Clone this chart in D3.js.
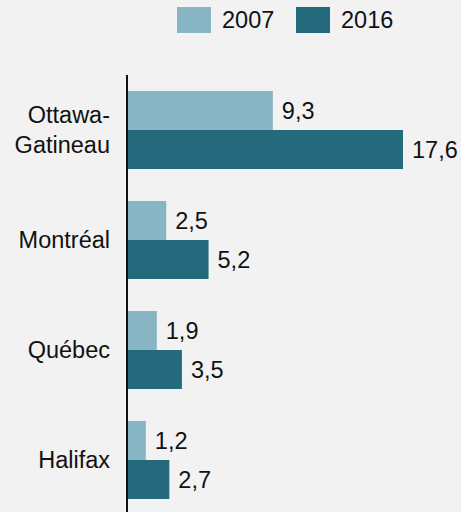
<!DOCTYPE html>
<html>
<head>
<meta charset="utf-8">
<script src="https://cdn.jsdelivr.net/npm/d3@7"></script>
<style>
  body { margin: 0; background: #f2f2f2; }
  text { font-family: "Liberation Sans", Arial, sans-serif; fill: #111; }
</style>
</head>
<body>
<div id="chart"></div>
<script>
const cities = ["Ottawa-\nGatineau", "Montréal", "Québec", "Halifax"];
const series = ["2007", "2016"];
const values2007 = [9.3, 2.5, 1.9, 1.2];
const values2016 = [17.6, 5.2, 3.5, 2.7];
const colors = ["#88b5c3", "#246a7c"];

const data = cities.map((c, i) => ({ city: c, values: [values2007[i], values2016[i]] }));

const fullWidth = 461;
const fullHeight = 512;
const axisX = 127;
const fontSize = 23.5;

const svg = d3
  .select("#chart")
  .append("svg")
  .attr("width", fullWidth)
  .attr("height", fullHeight);

svg.append("rect")
  .attr("width", fullWidth)
  .attr("height", fullHeight)
  .style("fill", "#f2f2f2");

const xScale = d3.scaleLinear().domain([0, 17.6]).range([axisX, 403]);

const yScale = d3
  .scaleBand()
  .domain(cities)
  .range([75, 515])
  .paddingInner(0.291)
  .paddingOuter(0.1455);

const subScale = d3.scaleBand().domain(series).range([0, yScale.bandwidth()]);

const groups = svg
  .selectAll(".group")
  .data(data)
  .enter()
  .append("g")
  .attr("transform", d => `translate(0, ${yScale(d.city)})`);

groups
  .selectAll("rect")
  .data(d => d.values.map((v, i) => ({ v, s: series[i], i })))
  .enter()
  .append("rect")
  .attr("x", axisX)
  .attr("y", d => subScale(d.s))
  .attr("width", d => xScale(d.v) - axisX)
  .attr("height", subScale.bandwidth())
  .style("fill", d => colors[d.i]);

groups
  .selectAll(".val")
  .data(d => d.values.map((v, i) => ({ v, s: series[i] })))
  .enter()
  .append("text")
  .attr("x", d => xScale(d.v) + 9)
  .attr("y", d => subScale(d.s) + subScale.bandwidth() / 2)
  .attr("dy", "0.35em")
  .style("font-size", fontSize + "px")
  .text(d => d3.format(".1f")(d.v).replace(".", ","));

// category labels
groups.each(function (d) {
  const lines = d.city.split("\n");
  const t = d3.select(this)
    .append("text")
    .attr("text-anchor", "end")
    .style("font-size", fontSize + "px")
    .attr("y", yScale.bandwidth() / 2);
  lines.forEach((l, i) => {
    t.append("tspan")
      .attr("x", 110)
      .attr("dy", i === 0 ? `${0.35 - (lines.length - 1) * 0.64}em` : "1.28em")
      .text(l);
  });
});

// axis line
svg.append("line")
  .attr("x1", axisX)
  .attr("x2", axisX)
  .attr("y1", 75)
  .attr("y2", fullHeight)
  .style("stroke", "#111")
  .style("stroke-width", 2);

// legend
const legendX = d3.scaleOrdinal().domain(series).range([177, 296]);
const legend = svg
  .selectAll(".legend")
  .data(series)
  .enter()
  .append("g")
  .attr("transform", d => `translate(${legendX(d)}, 7)`);

legend.append("rect")
  .attr("width", 34)
  .attr("height", 26)
  .style("fill", (d, i) => colors[i]);

legend.append("text")
  .attr("x", 45)
  .attr("y", 13)
  .attr("dy", "0.35em")
  .style("font-size", fontSize + "px")
  .text(d => d);
</script>
</body>
</html>
